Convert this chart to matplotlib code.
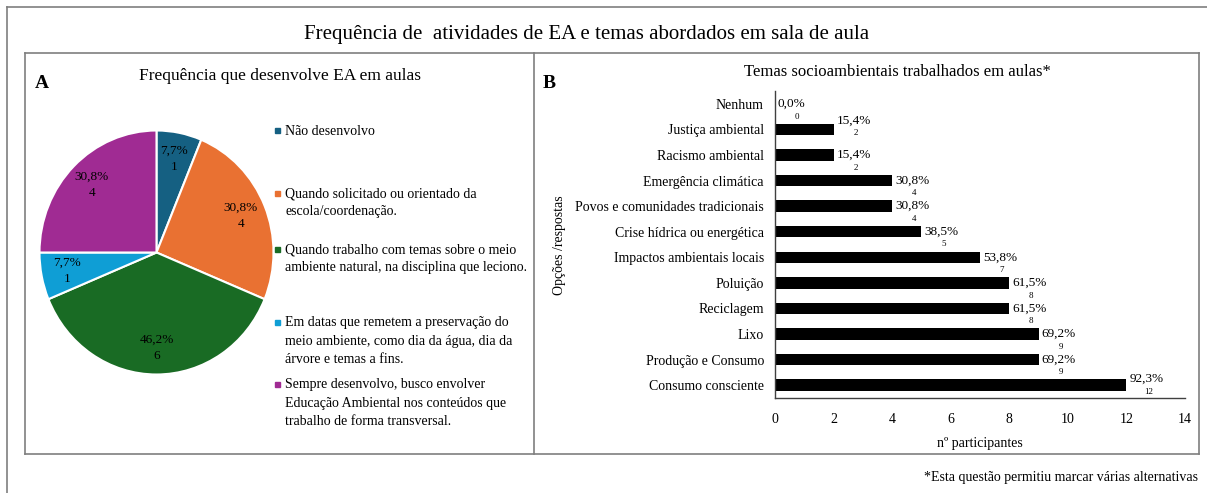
import matplotlib
matplotlib.use('Agg')
import matplotlib.pyplot as plt
from matplotlib.patches import Rectangle
from matplotlib.lines import Line2D
import numpy as np

plt.rcParams['font.family'] = ['Liberation Serif', 'DejaVu Serif']

# --- dados painel A (pizza)
pie_counts = [1, 4, 6, 1, 4]
pie_pcts = ['7,7%', '30,8%', '46,2%', '7,7%', '30,8%']
pie_colors = ['#156082', '#E97132', '#196B24', '#0F9ED5', '#A02B93']
pie_legend = [
    'Não desenvolvo',
    'Quando solicitado ou orientado da\nescola/coordenação.',
    'Quando trabalho com temas sobre o meio\nambiente natural, na disciplina que leciono.',
    'Em datas que remetem a preservação do\nmeio ambiente, como dia da água, dia da\nárvore e temas a fins.',
    'Sempre desenvolvo, busco envolver\nEducação Ambiental nos conteúdos que\ntrabalho de forma transversal.',
]

# --- dados painel B (barras), de cima para baixo
temas = ['Nenhum', 'Justiça ambiental', 'Racismo ambiental', 'Emergência climática',
         'Povos e comunidades tradicionais', 'Crise hídrica ou energética',
         'Impactos ambientais locais', 'Poluição', 'Reciclagem', 'Lixo',
         'Produção e Consumo', 'Consumo consciente']
temas_n = [0, 2, 2, 4, 4, 5, 7, 8, 8, 9, 9, 12]
temas_pct = ['0,0%', '15,4%', '15,4%', '30,8%', '30,8%', '38,5%', '53,8%',
             '61,5%', '61,5%', '69,2%', '69,2%', '92,3%']

W, H = 1207, 493
fig = plt.figure(figsize=(W / 100, H / 100), dpi=100)


def fx(px):
    return px / W


def fy(py):
    return 1 - py / H


# molduras
fc = '#7f7f7f'
for xs, ys in [((7, 1207), (7, 7)), ((7, 7), (7, 493)),
               ((25, 1199), (53, 53)), ((25, 1199), (454, 454)),
               ((25, 25), (53, 454)), ((1199, 1199), (53, 454)),
               ((534, 534), (53, 454))]:
    fig.add_artist(Line2D([fx(x) for x in xs], [fy(y) for y in ys],
                          color=fc, lw=1.2, transform=fig.transFigure))

fig.text(fx(587), fy(35), 'Frequência de  atividades de EA e temas abordados em sala de aula',
         ha='center', va='center', fontsize=15)

# ---------------- painel A
fig.text(fx(42), fy(83), 'A', ha='center', va='center', fontsize=14, fontweight='bold')
fig.text(fx(280), fy(76), 'Frequência que desenvolve EA em aulas',
         ha='center', va='center', fontsize=12.5)

cx, cy, rx, ry = 156.5, 252.5, 117, 122
axp = fig.add_axes([fx(cx - rx), fy(cy + ry), 2 * rx / W, 2 * ry / H])
wedges, _ = axp.pie(pie_counts, colors=pie_colors, startangle=90, counterclock=False,
                    wedgeprops=dict(edgecolor='white', linewidth=1.5))
axp.set_aspect('auto')
axp.set_xlim(-1, 1)
axp.set_ylim(-1, 1)
axp.axis('off')
for w, p, n in zip(wedges, pie_pcts, pie_counts):
    ang = np.deg2rad((w.theta1 + w.theta2) / 2)
    axp.text(0.78 * np.cos(ang), 0.78 * np.sin(ang), p + '\n' + str(n),
             ha='center', va='center', fontsize=9.5, linespacing=1.5)

leg_y = [131, 193, 249, 322, 384]
for lab, col, y in zip(pie_legend, pie_colors, leg_y):
    fig.add_artist(Rectangle((fx(275), fy(y + 2.5)), 5 / W, 5 / H, color=col,
                             transform=fig.transFigure))
    fig.text(fx(285), fy(y - 6), lab, ha='left', va='top', fontsize=10, linespacing=1.55)

# ---------------- painel B
fig.text(fx(549), fy(83), 'B', ha='center', va='center', fontsize=14, fontweight='bold')
fig.text(fx(897), fy(72), 'Temas socioambientais trabalhados em aulas*',
         ha='center', va='center', fontsize=12)

axb = fig.add_axes([fx(775), fy(398), 410 / W, 307 / H])
ypos = np.arange(len(temas))
axb.barh(ypos, temas_n, height=0.45, color='black')
axb.set_ylim(len(temas) - 0.5, -0.5)
axb.set_xlim(0, 14)
axb.set_xticks(range(0, 15, 2))
axb.set_yticks(ypos)
axb.set_yticklabels(temas)
axb.tick_params(axis='both', length=0, labelsize=10)
axb.tick_params(axis='x', pad=11)
axb.tick_params(axis='y', pad=8)
for s in ['top', 'right']:
    axb.spines[s].set_visible(False)
for s in ['left', 'bottom']:
    axb.spines[s].set_color('#404040')
    axb.spines[s].set_linewidth(1)
axb.set_xlabel('nº participantes', fontsize=10, labelpad=8)

nudge = {1: -0.35, 11: -0.25}
for i, (n, p) in enumerate(zip(temas_n, temas_pct)):
    dy = nudge.get(i, 0)
    axb.text(n + 0.1, i + dy, p, ha='left', va='center', fontsize=9.5, clip_on=False)
    axb.text(n + 0.75, i + dy + 0.5, str(n), ha='center', va='center', fontsize=6.5,
             clip_on=False)

fig.text(fx(560), fy(245), 'Opções /respostas', ha='center', va='center',
         rotation=90, fontsize=10)

fig.text(fx(1198), fy(477), '*Esta questão permitiu marcar várias alternativas',
         ha='right', va='center', fontsize=10)

fig.savefig('out.png', dpi=100)
